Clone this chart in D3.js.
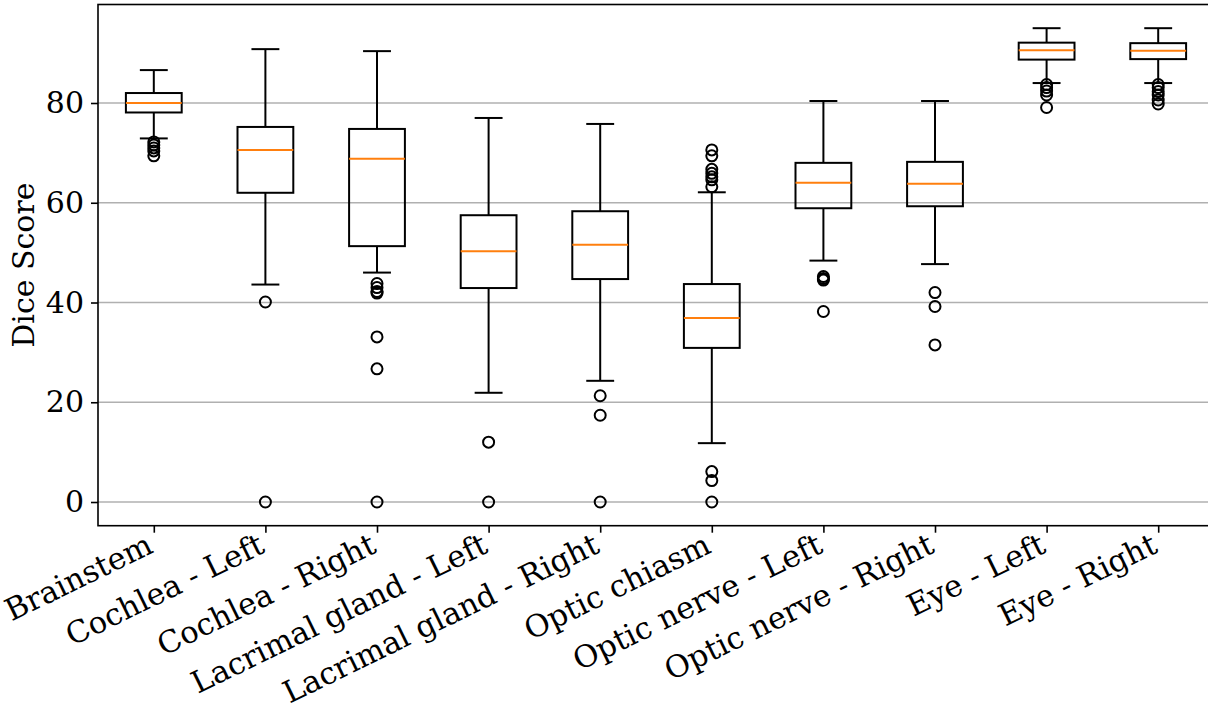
<!DOCTYPE html>
<html>
<head>
<meta charset="utf-8">
<script src="https://cdn.jsdelivr.net/npm/d3@7"></script>
<style>
  html, body { margin: 0; padding: 0; background: #fff; overflow: hidden; }
  svg text { font-family: "DejaVu Serif", serif; fill: #000; }
</style>
</head>
<body>
<svg id="chart" width="1208" height="705"></svg>
<script>
// box plot of dice scores per organ
const categories = [
  "Brainstem", "Cochlea - Left", "Cochlea - Right", "Lacrimal gland - Left",
  "Lacrimal gland - Right", "Optic chiasm", "Optic nerve - Left",
  "Optic nerve - Right", "Eye - Left", "Eye - Right"
];
const whiskerLow = [72.9, 43.6, 46.0, 21.9, 24.3, 11.8, 48.4, 47.7, 84.0, 84.0];
const q1 = [78.1, 62.0, 51.3, 42.9, 44.7, 30.9, 58.9, 59.3, 88.7, 88.8];
const median = [80.0, 70.6, 68.8, 50.3, 51.6, 36.9, 64.0, 63.8, 90.6, 90.5];
const q3 = [82.0, 75.2, 74.8, 57.5, 58.3, 43.7, 68.0, 68.2, 92.1, 92.0];
const whiskerHigh = [86.6, 90.8, 90.4, 77.0, 75.8, 62.1, 80.4, 80.4, 95.0, 95.0];
const outliers = [
  [72.2, 71.6, 71.0, 70.4, 69.4],
  [40.1, 0],
  [43.8, 43.0, 42.2, 41.9, 33.1, 26.7, 0],
  [12.0, 0],
  [21.3, 17.4, 0],
  [70.6, 69.4, 66.7, 65.9, 65.2, 64.6, 63.2, 6.1, 4.3, 0],
  [45.2, 44.8, 44.5, 38.2],
  [42.0, 39.2, 31.5],
  [83.7, 83.1, 82.4, 81.6, 79.1],
  [83.7, 83.1, 82.3, 81.6, 80.6, 79.8]
];
const yTicks = [0, 20, 40, 60, 80];

const plotLeft = 98, plotRight = 1214, plotTop = 4.5, plotBottom = 525.7;
const fontSize = 30;
const labelSize = 30.5;

const svg = d3.select("#chart");

const x = d3.scaleLinear().domain([0.5, 10.5]).range([plotLeft, plotRight]);
const y = d3.scaleLinear().domain([-4.75, 99.75]).range([plotBottom, plotTop]);

// grid lines
svg.append("g")
  .selectAll("line")
  .data(yTicks)
  .enter()
  .append("line")
  .attr("x1", plotLeft)
  .attr("x2", plotRight)
  .attr("y1", (d) => y(d))
  .attr("y2", (d) => y(d))
  .attr("stroke", "#b0b0b0")
  .attr("stroke-width", 1.6);

const boxes = categories.map((c, i) => ({
  name: c, pos: i + 1,
  lo: whiskerLow[i], q1: q1[i], med: median[i], q3: q3[i], hi: whiskerHigh[i],
  fliers: outliers[i]
}));

const g = svg.append("g");
const half = 0.25, cap = 0.125;

const box = g.selectAll("g.box").data(boxes).enter().append("g").attr("class", "box");

// whiskers
box.append("line")
  .attr("x1", (d) => x(d.pos)).attr("x2", (d) => x(d.pos))
  .attr("y1", (d) => y(d.q1)).attr("y2", (d) => y(d.lo))
  .attr("stroke", "#000").attr("stroke-width", 2);
box.append("line")
  .attr("x1", (d) => x(d.pos)).attr("x2", (d) => x(d.pos))
  .attr("y1", (d) => y(d.q3)).attr("y2", (d) => y(d.hi))
  .attr("stroke", "#000").attr("stroke-width", 2);
// caps
box.append("line")
  .attr("x1", (d) => x(d.pos - cap)).attr("x2", (d) => x(d.pos + cap))
  .attr("y1", (d) => y(d.lo)).attr("y2", (d) => y(d.lo))
  .attr("stroke", "#000").attr("stroke-width", 2);
box.append("line")
  .attr("x1", (d) => x(d.pos - cap)).attr("x2", (d) => x(d.pos + cap))
  .attr("y1", (d) => y(d.hi)).attr("y2", (d) => y(d.hi))
  .attr("stroke", "#000").attr("stroke-width", 2);
// box
box.append("rect")
  .attr("x", (d) => x(d.pos - half))
  .attr("width", (d) => x(d.pos + half) - x(d.pos - half))
  .attr("y", (d) => y(d.q3))
  .attr("height", (d) => y(d.q1) - y(d.q3))
  .attr("fill", "none")
  .attr("stroke", "#000")
  .attr("stroke-width", 2);
// median
box.append("line")
  .attr("x1", (d) => x(d.pos - half)).attr("x2", (d) => x(d.pos + half))
  .attr("y1", (d) => y(d.med)).attr("y2", (d) => y(d.med))
  .attr("stroke", "#ff7f0e").attr("stroke-width", 2);
// fliers
box.selectAll("circle")
  .data((d) => d.fliers.map((v) => ({ pos: d.pos, v })))
  .enter()
  .append("circle")
  .attr("cx", (d) => x(d.pos))
  .attr("cy", (d) => y(d.v))
  .attr("r", 5.5)
  .attr("fill", "none")
  .attr("stroke", "#000")
  .attr("stroke-width", 2);

// frame
svg.append("rect")
  .attr("x", plotLeft).attr("y", plotTop)
  .attr("width", plotRight - plotLeft).attr("height", plotBottom - plotTop)
  .attr("fill", "none").attr("stroke", "#000").attr("stroke-width", 1.6);

// y axis
const yAxis = svg.append("g")
  .attr("transform", `translate(${plotLeft},0)`)
  .call(d3.axisLeft(y).tickValues(yTicks).tickSize(7).tickPadding(7));
yAxis.select(".domain").remove();
yAxis.selectAll(".tick line").attr("stroke", "#000").attr("stroke-width", 1.6);
yAxis.selectAll(".tick text")
  .style("font-size", fontSize + "px")
  .style("font-family", "DejaVu Serif")
  .attr("fill", "#000");

// x axis ticks
const xAxis = svg.append("g")
  .attr("transform", `translate(0,${plotBottom})`)
  .call(d3.axisBottom(x).tickValues(d3.range(1, 11)).tickSize(7).tickFormat(""));
xAxis.select(".domain").remove();
xAxis.selectAll(".tick line").attr("stroke", "#000").attr("stroke-width", 1.6);

// rotated x labels, end of text just under the tick
const rot = 26;
svg.append("g")
  .selectAll("text")
  .data(categories)
  .enter()
  .append("text")
  .attr("text-anchor", "end")
  .style("font-size", labelSize + "px")
  .attr("transform", (d, i) => `translate(${x(i + 1) + 1},${plotBottom + 26}) rotate(${-rot})`)
  .text((d) => d);

// y label
svg.append("text")
  .attr("text-anchor", "middle")
  .attr("transform", `translate(34,${(plotTop + plotBottom) / 2}) rotate(-90)`)
  .style("font-size", fontSize + "px")
  .text("Dice Score");
</script>
</body>
</html>
